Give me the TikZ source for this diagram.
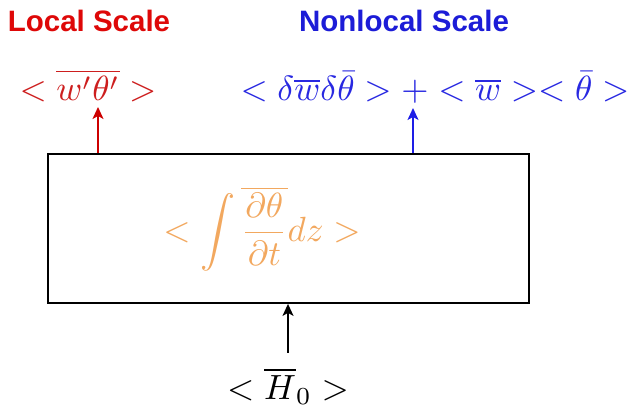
\documentclass[tikz,border=0pt]{standalone}
\usepackage{fontspec}
\usepackage{graphicx}
\newfontfamily\arialfont{Liberation Sans}
\usetikzlibrary{arrows.meta}
\definecolor{tred}{RGB}{222,8,8}
\definecolor{fred}{RGB}{205,30,30}
\definecolor{tblue}{RGB}{28,28,215}
\definecolor{fblue}{RGB}{40,40,225}
\definecolor{forange}{RGB}{242,168,95}
\definecolor{ared}{RGB}{205,0,0}
\definecolor{ablue}{RGB}{30,30,230}
\tikzset{
  title/.style={inner sep=0pt, anchor=base, font=\arialfont\bfseries\fontsize{29.5}{32}\selectfont},
  fml/.style={inner sep=0pt, anchor=base},
  mainbox/.style={draw=black, line width=1.8pt, minimum width=481pt, minimum height=149pt, inner sep=0pt},
  arr/.style={line width=1.5pt, -{Stealth[length=12pt,width=11pt,inset=3pt]}}
}
\begin{document}
\begin{tikzpicture}[x=1pt,y=1pt]
\useasboundingbox (0,0) rectangle (636,409);
\node[title, text=tred] (lt) at (89,377) {Local Scale};
\node[title, text=tblue] (nt) at (404,377) {Nonlocal Scale};
\node[fml, text=fred] (lf) at (88,308) {\scalebox{3.5}{$<\overline{w'\theta'}>$}};
\node[fml, text=fblue] (nf) at (435,308) {\scalebox{3.5}{$<\delta\overline{w}\delta\bar{\theta}> + <\overline{w}><\bar{\theta}>$}};
\node[mainbox] (box) at (288.5,180.5) {};
\node[inner sep=0pt, text=forange] (of) at (262,180) {\scalebox{3.5}{$\displaystyle <\int\overline{\frac{\partial\theta}{\partial t}}dz>$}};
\node[fml] (hf) at (288,10) {\scalebox{3.5}{$<\overline{H}_0>$}};
\coordinate (ra) at (98,302);
\coordinate (ba) at (413,301);
\coordinate (ka) at (288,56);
\draw[arr, ared] (ra |- box.north) -- (ra);
\draw[arr, ablue] (ba |- box.north) -- (ba);
\draw[arr, black] (ka) -- (ka |- box.south);
\end{tikzpicture}
\end{document}
